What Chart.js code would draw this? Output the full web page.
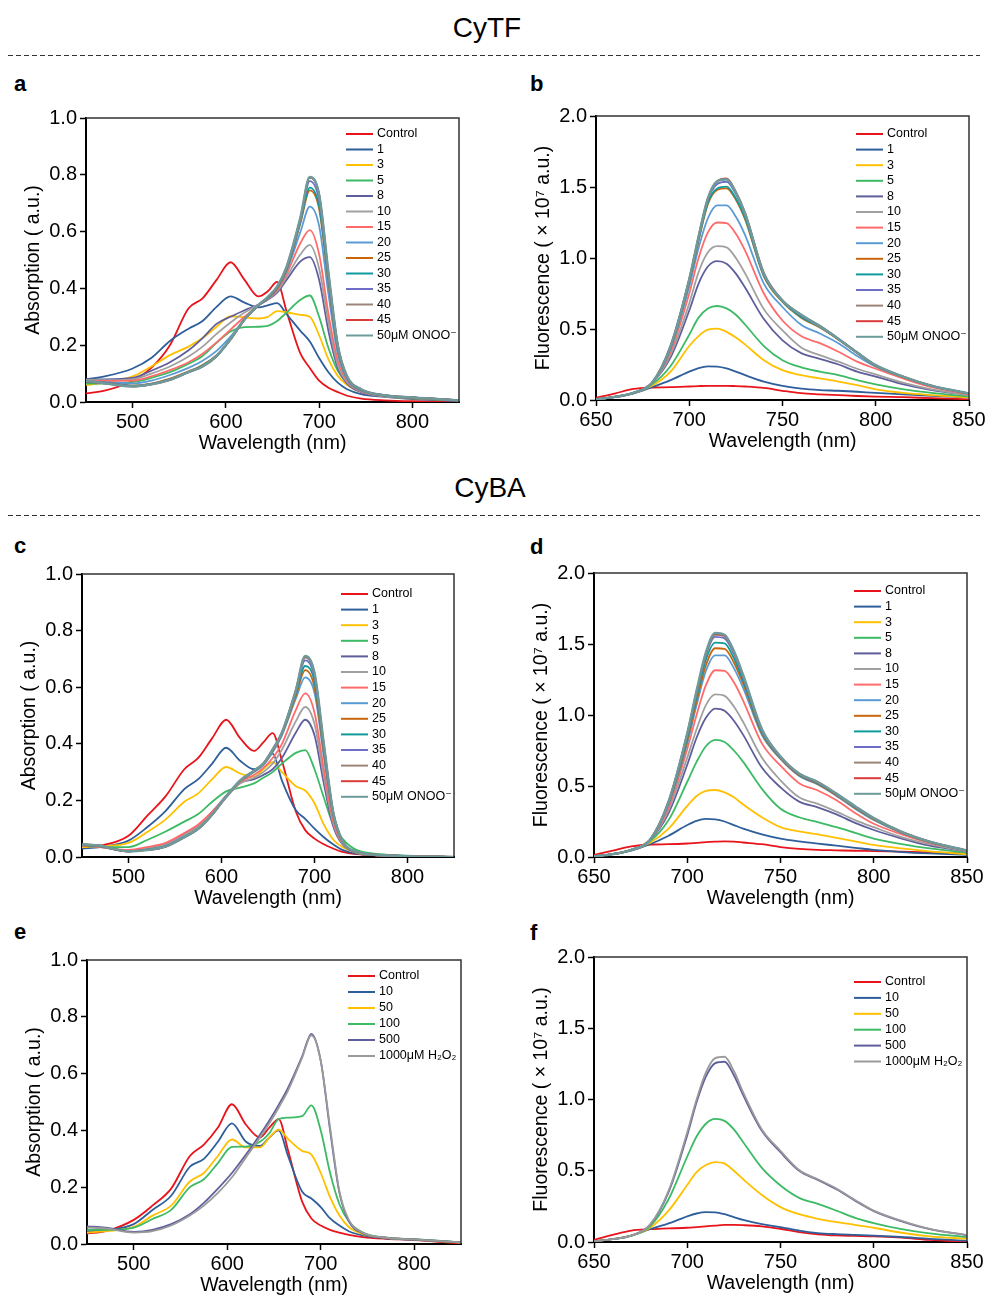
<!DOCTYPE html>
<html>
<head>
<meta charset="utf-8">
<script src="https://cdn.jsdelivr.net/npm/chart.js@4.4.1/dist/chart.umd.min.js"></script>
<style>
  body { margin: 0; background: #fff; }
  #page { position: relative; width: 990px; height: 1295px; overflow: hidden;
          font-family: "Liberation Sans", Arial, sans-serif; color: #000; }
  .sec { position: absolute; font-size: 28px; line-height: 32px; text-align: center; width: 200px; }
  .lab { position: absolute; font-weight: bold; font-size: 22px; line-height: 22px; }
  canvas { position: absolute; }
</style>
</head>
<body>
<div id="page">
  <svg width="990" height="1295" style="position:absolute;left:0;top:0">
    <line x1="8" y1="55.5" x2="980" y2="55.5" stroke="#333" stroke-width="1" stroke-dasharray="5,3"/>
    <line x1="8" y1="515.5" x2="980" y2="515.5" stroke="#333" stroke-width="1" stroke-dasharray="5,3"/>
  </svg>
  <div class="sec" style="left:387px;top:12px">CyTF</div>
  <div class="sec" style="left:390px;top:472px">CyBA</div>
  <div class="lab" style="left:14px;top:73px">a</div>
  <div class="lab" style="left:530px;top:73px">b</div>
  <div class="lab" style="left:14px;top:535px">c</div>
  <div class="lab" style="left:530px;top:536px">d</div>
  <div class="lab" style="left:14px;top:921px">e</div>
  <div class="lab" style="left:530px;top:922px">f</div>
</div>
<script>
// wavelengths (nm)
const absWave = [450, 470, 500, 520, 540, 560, 575, 590, 605, 620, 635, 645, 655, 665, 680, 690, 700, 710, 720, 730, 745, 770, 800, 850];
const flWave = [650, 660, 670, 680, 690, 700, 705, 710, 715, 720, 725, 730, 740, 750, 760, 770, 780, 790, 800, 815, 830, 850];

const onooLabels = ['Control', '1', '3', '5', '8', '10', '15', '20', '25', '30', '35', '40', '45', '50\u03bcM ONOO\u207b'];
const h2o2Labels = ['Control', '10', '50', '100', '500', '1000\u03bcM H\u2082O\u2082'];

// CyTF absorption (a)
const cytfAbs = [
  [.03,.04,.075,.12,.2,.33,.365,.43,.492,.43,.372,.39,.423,.32,.17,.12,.075,.05,.035,.022,.012,.006,.003,.002],
  [.08,.09,.118,.155,.215,.258,.285,.335,.372,.35,.333,.34,.348,.31,.25,.213,.155,.105,.068,.045,.028,.018,.01,.004],
  [.06,.068,.09,.125,.165,.195,.225,.265,.302,.298,.294,.3,.32,.316,.307,.3,.235,.15,.092,.06,.035,.02,.013,.006],
  [.065,.065,.07,.085,.105,.135,.162,.208,.248,.264,.265,.268,.285,.315,.36,.375,.3,.19,.11,.07,.038,.02,.014,.006],
  [.08,.08,.085,.11,.14,.182,.225,.275,.3,.323,.342,.36,.385,.43,.495,.51,.43,.25,.12,.065,.035,.02,.014,.006],
  [.078,.077,.08,.1,.125,.16,.195,.24,.28,.315,.343,.362,.39,.44,.52,.553,.47,.28,.13,.07,.037,.021,.015,.006],
  [.075,.074,.075,.09,.112,.14,.17,.21,.255,.3,.34,.365,.395,.45,.56,.605,.52,.31,.145,.075,.038,.021,.015,.006],
  [.072,.07,.065,.075,.095,.12,.145,.18,.23,.29,.34,.365,.4,.46,.6,.688,.62,.38,.17,.08,.04,.022,.015,.006],
  [.07,.068,.058,.065,.082,.108,.13,.165,.22,.29,.34,.365,.4,.465,.63,.745,.68,.42,.185,.085,.042,.023,.015,.006],
  [.07,.068,.057,.064,.08,.106,.128,.163,.22,.29,.34,.366,.402,.468,.635,.755,.69,.43,.19,.086,.043,.023,.016,.006],
  [.072,.068,.056,.063,.079,.105,.126,.162,.22,.29,.34,.367,.404,.47,.64,.778,.71,.44,.195,.088,.044,.024,.016,.006],
  [.073,.066,.055,.062,.078,.105,.125,.16,.22,.29,.34,.368,.405,.472,.645,.79,.73,.45,.2,.09,.045,.024,.016,.006],
  [.074,.066,.055,.062,.078,.105,.125,.161,.221,.291,.341,.369,.406,.474,.648,.79,.73,.452,.2,.09,.045,.024,.016,.006],
  [.075,.066,.055,.062,.078,.105,.125,.162,.222,.292,.342,.37,.407,.475,.65,.792,.73,.455,.2,.09,.045,.024,.016,.006]
];

// CyTF fluorescence (b), x 10^7
const cytfFl = [
  [.015,.045,.078,.088,.09,.095,.098,.1,.1,.1,.098,.095,.085,.065,.048,.04,.034,.028,.024,.02,.013,.005],
  [.005,.02,.045,.09,.14,.2,.225,.237,.235,.222,.2,.175,.13,.1,.08,.07,.065,.058,.05,.04,.03,.018],
  [.005,.02,.05,.1,.2,.38,.45,.495,.502,.48,.44,.39,.28,.21,.175,.152,.13,.105,.075,.05,.035,.02],
  [.005,.02,.05,.11,.24,.46,.58,.645,.662,.645,.6,.53,.38,.28,.23,.2,.175,.14,.11,.075,.05,.025],
  [.005,.02,.05,.12,.3,.63,.82,.94,.978,.96,.89,.79,.57,.42,.33,.29,.25,.2,.165,.11,.07,.035],
  [.005,.02,.05,.12,.32,.68,.9,1.04,1.083,1.075,1.0,.89,.64,.49,.37,.316,.27,.22,.18,.12,.075,.035],
  [.005,.02,.05,.12,.34,.75,1.0,1.18,1.25,1.245,1.17,1.05,.75,.56,.45,.4,.34,.27,.22,.15,.09,.04],
  [.005,.02,.05,.12,.36,.8,1.07,1.28,1.37,1.37,1.29,1.16,.82,.655,.53,.468,.4,.31,.235,.16,.1,.045],
  [.005,.022,.05,.12,.37,.83,1.12,1.38,1.48,1.49,1.41,1.27,.87,.69,.58,.51,.425,.33,.24,.16,.1,.045],
  [.005,.022,.05,.12,.37,.84,1.13,1.39,1.49,1.502,1.42,1.28,.875,.695,.585,.515,.428,.332,.242,.162,.1,.045],
  [.005,.022,.05,.12,.375,.845,1.14,1.41,1.52,1.537,1.45,1.3,.885,.7,.595,.518,.43,.334,.244,.162,.1,.045],
  [.005,.022,.05,.12,.38,.85,1.15,1.42,1.54,1.555,1.46,1.31,.89,.7,.6,.52,.43,.335,.245,.163,.1,.045],
  [.005,.022,.05,.12,.38,.85,1.15,1.42,1.54,1.56,1.465,1.315,.895,.702,.6,.522,.432,.336,.245,.163,.1,.046],
  [.005,.022,.05,.12,.38,.85,1.15,1.42,1.54,1.555,1.46,1.31,.89,.7,.6,.52,.43,.335,.245,.163,.1,.046]
];

// CyBA absorption (c)
const cybaAbs = [
  [.035,.04,.075,.145,.215,.31,.35,.42,.485,.42,.375,.405,.438,.34,.16,.095,.065,.045,.03,.018,.01,.005,.002,0],
  [.03,.035,.058,.105,.163,.24,.275,.33,.386,.34,.31,.33,.365,.27,.165,.135,.1,.07,.045,.025,.012,.006,.003,0],
  [.035,.038,.05,.088,.133,.195,.225,.275,.318,.295,.283,.31,.335,.3,.25,.235,.19,.115,.062,.035,.015,.007,.003,0],
  [.04,.035,.035,.06,.09,.125,.152,.195,.232,.245,.26,.28,.3,.33,.368,.378,.31,.21,.115,.065,.025,.01,.005,0],
  [.04,.035,.022,.03,.045,.08,.11,.16,.215,.262,.275,.29,.31,.35,.44,.485,.43,.26,.11,.045,.015,.006,.003,0],
  [.04,.035,.022,.03,.045,.078,.108,.155,.21,.26,.28,.3,.33,.38,.48,.53,.47,.285,.12,.048,.016,.006,.003,0],
  [.04,.035,.025,.035,.05,.085,.115,.16,.215,.265,.29,.315,.35,.4,.52,.578,.51,.31,.13,.05,.016,.006,.003,0],
  [.042,.037,.02,.027,.04,.072,.1,.15,.212,.268,.3,.325,.37,.43,.56,.635,.58,.355,.145,.054,.017,.007,.003,0],
  [.042,.037,.02,.026,.038,.07,.1,.15,.212,.268,.302,.328,.375,.435,.57,.66,.6,.37,.15,.055,.017,.007,.003,0],
  [.043,.038,.02,.026,.038,.07,.1,.15,.213,.269,.303,.329,.377,.437,.58,.675,.62,.38,.155,.056,.018,.007,.003,0],
  [.044,.039,.02,.025,.037,.07,.1,.15,.214,.27,.304,.33,.378,.438,.585,.695,.635,.39,.158,.057,.018,.007,.003,0],
  [.045,.04,.02,.025,.037,.07,.1,.15,.215,.27,.305,.33,.38,.44,.59,.705,.645,.395,.16,.058,.018,.007,.003,0],
  [.045,.04,.02,.025,.037,.07,.1,.15,.215,.27,.305,.33,.38,.44,.59,.708,.648,.398,.16,.058,.018,.007,.003,0],
  [.045,.04,.02,.025,.037,.07,.1,.15,.215,.27,.305,.33,.38,.44,.59,.71,.65,.4,.16,.058,.018,.007,.003,0]
];

// CyBA fluorescence (d), x 10^7
const cybaFl = [
  [.015,.045,.075,.088,.09,.095,.1,.105,.108,.11,.108,.102,.09,.07,.057,.05,.047,.044,.042,.038,.033,.025],
  [.005,.02,.045,.09,.15,.225,.255,.268,.265,.25,.225,.2,.16,.13,.11,.094,.08,.065,.05,.035,.025,.015],
  [.005,.02,.05,.1,.2,.36,.43,.465,.472,.455,.42,.37,.28,.21,.18,.16,.135,.11,.085,.06,.04,.02],
  [.005,.02,.05,.11,.26,.53,.67,.78,.825,.81,.75,.67,.48,.34,.28,.245,.21,.17,.13,.09,.06,.03],
  [.005,.02,.05,.12,.31,.65,.84,.98,1.045,1.03,.96,.86,.63,.49,.39,.35,.3,.24,.19,.13,.08,.04],
  [.005,.02,.05,.12,.33,.7,.9,1.07,1.145,1.135,1.06,.95,.7,.54,.42,.374,.32,.26,.21,.14,.09,.04],
  [.005,.02,.05,.12,.35,.76,1.0,1.21,1.315,1.31,1.23,1.1,.8,.643,.52,.468,.4,.31,.234,.16,.1,.045],
  [.005,.02,.05,.12,.37,.8,1.07,1.31,1.42,1.42,1.33,1.19,.86,.69,.57,.51,.43,.34,.26,.17,.105,.045],
  [.005,.02,.05,.12,.38,.82,1.1,1.35,1.47,1.465,1.37,1.22,.87,.695,.575,.515,.435,.345,.265,.172,.105,.045],
  [.005,.02,.05,.12,.385,.84,1.13,1.39,1.51,1.505,1.4,1.24,.88,.7,.58,.52,.44,.35,.268,.174,.106,.045],
  [.005,.02,.05,.12,.39,.86,1.15,1.42,1.55,1.54,1.43,1.26,.89,.702,.582,.524,.442,.352,.27,.175,.107,.045],
  [.005,.02,.05,.12,.39,.865,1.16,1.43,1.565,1.555,1.44,1.27,.895,.705,.585,.526,.444,.354,.272,.176,.108,.045],
  [.005,.02,.05,.12,.39,.87,1.165,1.435,1.57,1.56,1.445,1.275,.9,.707,.586,.527,.445,.356,.273,.177,.108,.045],
  [.005,.02,.05,.12,.39,.87,1.17,1.44,1.578,1.565,1.45,1.28,.9,.708,.588,.528,.446,.357,.274,.177,.108,.045]
];

// CyBA + H2O2 absorption (e)
const h2o2Abs = [
  [.037,.045,.085,.135,.195,.31,.35,.41,.492,.42,.375,.41,.44,.33,.15,.09,.065,.05,.04,.032,.024,.018,.014,.002],
  [.045,.048,.07,.12,.17,.272,.3,.36,.425,.36,.345,.375,.4,.31,.185,.16,.13,.09,.065,.045,.03,.02,.015,.005],
  [.04,.045,.06,.1,.135,.22,.25,.31,.368,.34,.34,.375,.403,.37,.328,.315,.25,.165,.1,.06,.035,.022,.016,.005],
  [.05,.05,.058,.088,.12,.2,.228,.285,.342,.343,.36,.39,.44,.445,.45,.488,.4,.25,.14,.08,.04,.022,.017,.006],
  [.062,.058,.043,.05,.07,.105,.145,.195,.25,.315,.385,.435,.49,.55,.66,.74,.645,.4,.18,.08,.038,.022,.016,.006],
  [.058,.055,.04,.045,.065,.1,.135,.18,.235,.305,.375,.425,.48,.54,.655,.735,.645,.41,.185,.085,.04,.022,.016,.006]
];

// CyBA + H2O2 fluorescence (f), x 10^7
const h2o2Fl = [
  [.015,.05,.08,.09,.095,.1,.105,.11,.115,.12,.12,.118,.11,.093,.07,.054,.046,.043,.04,.03,.015,.002],
  [.005,.02,.045,.09,.13,.18,.2,.21,.208,.195,.175,.155,.125,.105,.08,.063,.055,.05,.045,.035,.022,.01],
  [.005,.02,.045,.1,.22,.4,.49,.54,.56,.55,.5,.44,.33,.245,.195,.163,.14,.12,.1,.065,.04,.023],
  [.005,.02,.045,.11,.3,.6,.74,.83,.864,.85,.79,.7,.52,.397,.31,.268,.22,.17,.133,.09,.06,.035],
  [.005,.02,.045,.12,.35,.75,.98,1.16,1.255,1.265,1.17,1.03,.78,.63,.5,.436,.37,.29,.217,.145,.09,.047],
  [.005,.02,.045,.12,.36,.77,1.0,1.19,1.29,1.3,1.2,1.05,.79,.64,.505,.44,.375,.295,.22,.148,.092,.048]
];

const absTicksX = [500, 600, 700, 800];
const flTicksX = [650, 700, 750, 800, 850];
const absTicksY = [0, 0.2, 0.4, 0.6, 0.8, 1.0];
const flTicksY = [0, 0.5, 1.0, 1.5, 2.0];

const onooColors = ['#e8141b', '#2e5f9b', '#ffc000', '#3cba64', '#5f5e9c', '#a0a0a0', '#ff6b6b',
                    '#5b9bd5', '#c9650c', '#0f9b9b', '#6e6ec6', '#9c8478', '#d93b3b', '#6d9a9a'];
const h2o2Colors = ['#e8141b', '#2e5f9b', '#ffc000', '#3cba64', '#5f5e9c', '#9a9a9a'];

const FONT = '"Liberation Sans", Arial, "DejaVu Sans", sans-serif';
Chart.defaults.font.family = FONT;
Chart.defaults.color = '#000';

// legend drawn inside the plot, top right
const inLegend = {
  id: 'inLegend',
  afterDatasetsDraw(chart, args, opts) {
    const { ctx, chartArea } = chart;
    ctx.save();
    ctx.font = '12.5px ' + FONT;
    ctx.textBaseline = 'middle';
    chart.data.datasets.forEach((ds, i) => {
      const y = chartArea.top + opts.top + i * opts.gap;
      ctx.strokeStyle = ds.borderColor;
      ctx.lineWidth = 2;
      ctx.beginPath();
      ctx.moveTo(chartArea.right - 113, y);
      ctx.lineTo(chartArea.right - 86, y);
      ctx.stroke();
      ctx.fillStyle = '#000';
      ctx.fillText(ds.label, chartArea.right - 82, y);
    });
    ctx.restore();
  }
};

// top and right edges of the frame
const frame = {
  id: 'frame',
  afterDraw(chart) {
    const { ctx, chartArea: { left, top, right, bottom } } = chart;
    ctx.save();
    ctx.strokeStyle = '#333';
    ctx.lineWidth = 1.5;
    ctx.beginPath();
    ctx.moveTo(left, top);
    ctx.lineTo(right, top);
    ctx.lineTo(right, bottom);
    ctx.stroke();
    ctx.restore();
  }
};

const panels = [
  { box: [86, 117, 459, 402], kind: 'abs', series: cytfAbs, labels: onooLabels, colors: onooColors, lg: [16, 15.5] },
  { box: [596, 115, 969, 400], kind: 'fl', series: cytfFl, labels: onooLabels, colors: onooColors, lg: [18, 15.6] },
  { box: [82, 573, 454, 857], kind: 'abs', series: cybaAbs, labels: onooLabels, colors: onooColors, lg: [20, 15.6] },
  { box: [594, 572, 967, 857], kind: 'fl', series: cybaFl, labels: onooLabels, colors: onooColors, lg: [18, 15.6] },
  { box: [87, 959, 461, 1244], kind: 'abs', series: h2o2Abs, labels: h2o2Labels, colors: h2o2Colors, lg: [16, 16] },
  { box: [594, 956, 967, 1242], kind: 'fl', series: h2o2Fl, labels: h2o2Labels, colors: h2o2Colors, lg: [25, 15.9] }
];

const page = document.getElementById('page');
const YW = 64, XH = 53, PT = 14, PR = 25;

panels.forEach(p => {
  const [L, T, R, B] = p.box;
  const abs = p.kind === 'abs';
  const xs = abs ? absWave : flWave;
  const cv = document.createElement('canvas');
  const w = R - L + YW + PR, h = B - T + PT + XH;
  cv.width = w; cv.height = h;
  cv.style.left = (L - YW) + 'px';
  cv.style.top = (T - PT) + 'px';
  cv.style.width = w + 'px';
  cv.style.height = h + 'px';
  page.appendChild(cv);

  const n = p.series.length;
  const datasets = p.series.map((vals, i) => ({
    label: p.labels[i],
    data: vals.map((v, j) => ({ x: xs[j], y: v })),
    borderColor: p.colors[i],
    borderWidth: (n > 6 && i === n - 1) ? 2.5 : 1.8,
    pointRadius: 0,
    cubicInterpolationMode: 'monotone',
    fill: false,
    order: n - i
  }));

  const tickX = abs ? absTicksX : flTicksX;
  const tickY = abs ? absTicksY : flTicksY;
  const axisGrid = { display: true, drawOnChartArea: false, drawTicks: true, tickLength: 6, tickColor: '#000', tickWidth: 1.5 };

  new Chart(cv, {
    type: 'line',
    data: { datasets },
    plugins: [inLegend, frame],
    options: {
      responsive: false,
      animation: false,
      devicePixelRatio: 1,
      layout: { padding: { top: PT, right: PR, left: 0, bottom: 0 } },
      plugins: {
        legend: { display: false },
        tooltip: { enabled: false },
        inLegend: { top: p.lg[0], gap: p.lg[1] }
      },
      scales: {
        x: {
          type: 'linear',
          min: abs ? 450 : 650,
          max: 850,
          afterFit: s => { s.height = XH; },
          afterBuildTicks: s => { s.ticks = tickX.map(v => ({ value: v })); },
          ticks: { font: { size: 20 }, color: '#000', padding: 2, maxRotation: 0, autoSkip: false },
          grid: axisGrid,
          border: { display: true, color: '#000', width: 2 },
          title: { display: true, text: 'Wavelength (nm)', font: { size: 19.5 }, color: '#000', padding: 0 }
        },
        y: {
          min: 0,
          max: abs ? 1.0 : 2.0,
          afterFit: s => { s.width = YW; },
          afterBuildTicks: s => { s.ticks = tickY.map(v => ({ value: v })); },
          ticks: { font: { size: 20 }, color: '#000', padding: 3, callback: v => v.toFixed(1) },
          grid: axisGrid,
          border: { display: true, color: '#000', width: 2 },
          title: {
            display: true,
            text: abs ? 'Absorption ( a.u.)' : 'Fluorescence ( \u00d7 10\u2077 a.u.)',
            font: { size: 19.5 }, color: '#000', padding: 0
          }
        }
      }
    }
  });
});
</script>
</body>
</html>
